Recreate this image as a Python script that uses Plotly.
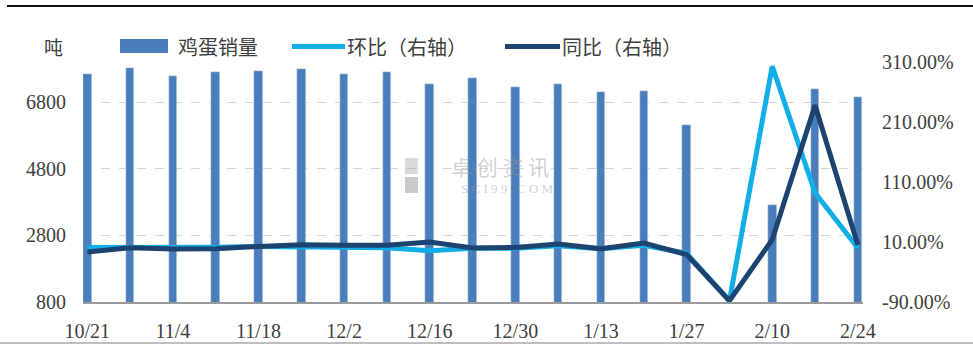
import plotly.graph_objects as go

# ---------------- data ----------------
dates = ["10/21", "10/28", "11/4", "11/11", "11/18", "11/25", "12/2", "12/9", "12/16",
         "12/23", "12/30", "1/6", "1/13", "1/20", "1/27", "2/3", "2/10", "2/17", "2/24"]
sales = [7640, 7820, 7580, 7700, 7730, 7790, 7640, 7700, 7340, 7520, 7250, 7340,
         7100, 7130, 6110, 610, 3710, 7190, 6950]
mom = [0.9, 1.0, -0.5, 1.2, 2.6, 2.0, 0.4, 0.4, -4.6, -0.5, -0.5, 3.7, -1.3, 4.6,
       -9.0, -88.0, 303.0, 92.0, 0.0]
yoy = [-6.8, 0.4, -1.8, -1.3, 2.6, 5.4, 4.6, 4.6, 9.9, -0.1, 0.9, 6.5, -1.3, 8.2,
       -11.0, -88.0, 13.8, 238.0, 5.0]
left_ticks = [800, 2800, 4800, 6800]
right_ticks = [-90, 10, 110, 210, 310]
right_ticktext = ["-90.00%", "10.00%", "110.00%", "210.00%", "310.00%"]
x_ticks = dates[::2]

# ---------------- style ----------------
W, H = 973, 345
ML, MR, MT, MB = 83, 110, 62, 43
PW, PH = W - ML - MR, H - MT - MB
BAR_C = "#4a7ebb"
LIGHT_C = "#12aee8"
DARK_C = "#1d4470"
TXT_C = "#404040"
NUM_FONT = "Liberation Serif, Noto Sans CJK SC, serif"
CJK_FONT = "Noto Sans CJK SC, sans-serif"


def px(x):
    return (x - ML) / PW


def py(y):
    return (H - MB - y) / PH


fig = go.Figure()
fig.add_trace(go.Bar(x=dates, y=sales, name="鸡蛋销量", marker_color=BAR_C,
                     width=0.2, showlegend=False))
fig.add_trace(go.Scatter(x=dates, y=mom, name="环比（右轴）", yaxis="y2", mode="lines",
                         line=dict(color=LIGHT_C, width=5), showlegend=False))
fig.add_trace(go.Scatter(x=dates, y=yoy, name="同比（右轴）", yaxis="y2", mode="lines",
                         line=dict(color=DARK_C, width=5), showlegend=False))

shapes = [
    # top border
    dict(type="line", xref="paper", yref="paper", x0=px(7), x1=px(973), y0=py(6), y1=py(6),
         line=dict(color="#111111", width=2)),
    # bottom border
    dict(type="line", xref="paper", yref="paper", x0=px(0), x1=px(973), y0=py(343), y1=py(343),
         line=dict(color="#a8a8a8", width=1.5)),
    # legend swatches
    dict(type="rect", xref="paper", yref="paper", x0=px(120), x1=px(168), y0=py(53), y1=py(39),
         fillcolor=BAR_C, line=dict(width=0)),
    dict(type="line", xref="paper", yref="paper", x0=px(292), x1=px(345), y0=py(46.5), y1=py(46.5),
         line=dict(color=LIGHT_C, width=5)),
    dict(type="line", xref="paper", yref="paper", x0=px(505), x1=px(560), y0=py(46.5), y1=py(46.5),
         line=dict(color=DARK_C, width=5)),
    # watermark blocks
    dict(type="rect", xref="paper", yref="paper", x0=px(405), x1=px(418), y0=py(174), y1=py(158),
         fillcolor="rgba(150,150,150,0.35)", line=dict(width=0), layer="above"),
    dict(type="rect", xref="paper", yref="paper", x0=px(405), x1=px(418), y0=py(193), y1=py(177),
         fillcolor="rgba(150,150,150,0.5)", line=dict(width=0), layer="above"),
]

annotations = [
    dict(text="吨", x=px(53), y=py(46), xref="paper", yref="paper", showarrow=False,
         xanchor="center", yanchor="middle", font=dict(family=CJK_FONT, size=19, color=TXT_C)),
    dict(text="鸡蛋销量", x=px(176), y=py(46.5), xref="paper", yref="paper", showarrow=False,
         xanchor="left", yanchor="middle", font=dict(family=CJK_FONT, size=20, color=TXT_C)),
    dict(text="环比（右轴）", x=px(345), y=py(46.5), xref="paper", yref="paper", showarrow=False,
         xanchor="left", yanchor="middle", font=dict(family=CJK_FONT, size=20, color=TXT_C)),
    dict(text="同比（右轴）", x=px(560), y=py(46.5), xref="paper", yref="paper", showarrow=False,
         xanchor="left", yanchor="middle", font=dict(family=CJK_FONT, size=20, color=TXT_C)),
    # watermark
    dict(text="卓 创 资 讯", x=px(500), y=py(166), xref="paper", yref="paper", showarrow=False,
         xanchor="center", yanchor="middle",
         font=dict(family=CJK_FONT, size=21, color="rgba(150,150,150,0.45)")),
    dict(text="S C I 9 9 . C O M", x=px(508), y=py(188), xref="paper", yref="paper", showarrow=False,
         xanchor="center", yanchor="middle",
         font=dict(family=NUM_FONT, size=13, color="rgba(150,150,150,0.45)")),
]

fig.update_layout(
    width=W, height=H,
    margin=dict(l=ML, r=MR, t=MT, b=MB, pad=0, autoexpand=False),
    paper_bgcolor="white", plot_bgcolor="white",
    showlegend=False,
    bargap=0,
    shapes=shapes,
    annotations=annotations,
    xaxis=dict(
        type="category", range=[-0.1, 18.12], automargin=False,
        tickmode="array", tickvals=x_ticks, ticktext=x_ticks,
        showgrid=False, zeroline=False,
        showline=True, linecolor="#9a9a9a", linewidth=1.5,
        ticks="", ticklabelstandoff=10,
        tickfont=dict(family=NUM_FONT, size=20, color=TXT_C),
    ),
    yaxis=dict(
        range=[800, 8000], tickmode="array", tickvals=left_ticks, automargin=False,
        ticktext=[str(v) for v in left_ticks],
        showgrid=True, gridcolor="#d6d6d6", gridwidth=1.3, griddash="dash",
        zeroline=False, showline=False, ticks="", ticklabelstandoff=16,
        tickfont=dict(family=NUM_FONT, size=20, color=TXT_C),
    ),
    yaxis2=dict(
        range=[-90, 310], overlaying="y", side="right", automargin=False,
        tickmode="array", tickvals=right_ticks, ticktext=right_ticktext,
        showgrid=False, zeroline=False, showline=False, ticks="",
        ticklabelstandoff=18,
        tickfont=dict(family=NUM_FONT, size=20, color=TXT_C),
    ),
)

fig.write_html("out.html")
